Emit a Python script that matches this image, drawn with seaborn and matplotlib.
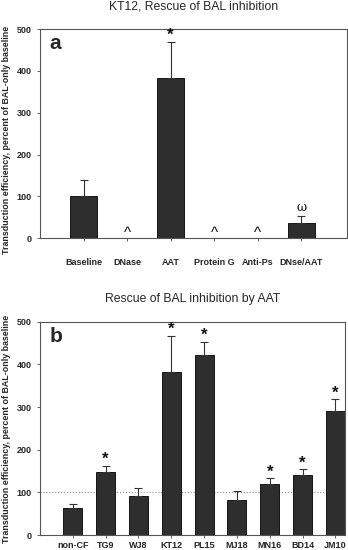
import numpy as np
import pandas as pd
import matplotlib
matplotlib.use('Agg')
import matplotlib.pyplot as plt
import seaborn as sns

# panel a data
cats_a = ['Baseline', 'DNase', 'AAT', 'Protein G', 'Anti-Ps', 'DNse/AAT']
vals_a = [100, 0, 383, 0, 0, 37]
err_a = [40, 0, 87, 0, 0, 15]
marks_a = ['', '^', '*', '^', '^', 'ω']

# panel b data
cats_b = ['non-CF', 'TG9', 'WJ8', 'KT12', 'PL15', 'MJ18', 'MN16', 'BD14', 'JM10']
vals_b = [63, 149, 91, 383, 421, 82, 121, 141, 291]
err_b = [10, 14, 20, 84, 32, 22, 12, 14, 28]
marks_b = ['', '*', '', '*', '*', '', '*', '*', '*']

sns.set_theme(style='white')
plt.rcParams['font.family'] = ['Liberation Sans', 'DejaVu Sans']

fig = plt.figure(figsize=(3.48, 5.5), dpi=100)
ax_a = fig.add_axes([0.115, 0.567, 0.882, 0.380])
ax_b = fig.add_axes([0.115, 0.027, 0.877, 0.388])

bar_color = '#2e2e2e'


def draw_panel(ax, cats, vals, errs, marks, letter, title, xmax, width):
    df = pd.DataFrame({'cat': cats, 'val': vals})
    sns.barplot(data=df, x='cat', y='val', color=bar_color, width=width,
                edgecolor='black', linewidth=0.6, saturation=1, ax=ax)
    x = np.arange(len(cats))
    v = np.array(vals, dtype=float)
    e = np.array(errs, dtype=float)
    has = e > 0
    ax.errorbar(x[has], v[has], yerr=[np.zeros(has.sum()), e[has]], fmt='none',
                ecolor='#333333', elinewidth=0.8, capsize=3, capthick=0.8)
    for xi, vi, ei, m in zip(x, v, e, marks):
        if m == '':
            continue
        if m == '^':
            ax.text(xi, -4, '^', ha='center', va='bottom', fontsize=11, color='#111111')
        elif m == '*':
            ax.text(xi, vi + ei - 3, '*', ha='center', va='bottom', fontsize=12,
                    fontweight='bold', color='#111111')
        else:
            ax.text(xi, vi + ei + 6, m, ha='center', va='bottom', fontsize=9,
                    family=['DejaVu Serif'], color='#111111')
    ax.set_ylim(0, 500)
    ax.set_xlim(-1.0, xmax)
    ax.set_yticks([0, 100, 200, 300, 400, 500])
    ax.set_xlabel('')
    ax.set_ylabel('Transduction efficiency, percent of BAL-only baseline',
                  fontsize=6.4, fontweight='bold', labelpad=3)
    ax.set_title(title, fontsize=8.8, pad=14)
    ax.tick_params(axis='both', direction='out', length=2.5, width=0.6,
                   labelsize=6.5, color='#444444', bottom=True, left=True)
    for lab in ax.get_yticklabels() + ax.get_xticklabels():
        lab.set_fontweight('bold')
    for s in ax.spines.values():
        s.set_color('#555555')
        s.set_linewidth(0.8)
    ax.text(0.03, 0.975, letter, transform=ax.transAxes, ha='left', va='top',
            fontsize=15, fontweight='bold')


draw_panel(ax_a, cats_a, vals_a, err_a, marks_a, 'a',
           'KT12, Rescue of BAL inhibition', 6.05, 0.62)
ax_a.tick_params(axis='x', pad=12)
ax_a.yaxis.set_label_coords(-0.095, 0.47)

draw_panel(ax_b, cats_b, vals_b, err_b, marks_b, 'b',
           'Rescue of BAL inhibition by AAT', 8.3, 0.58)
ax_b.axhline(100, color='#888888', linestyle=':', linewidth=0.8, zorder=0)
ax_b.tick_params(axis='x', pad=2)
ax_b.yaxis.set_label_coords(-0.095, 0.5)

fig.savefig('out.png', dpi=100)
